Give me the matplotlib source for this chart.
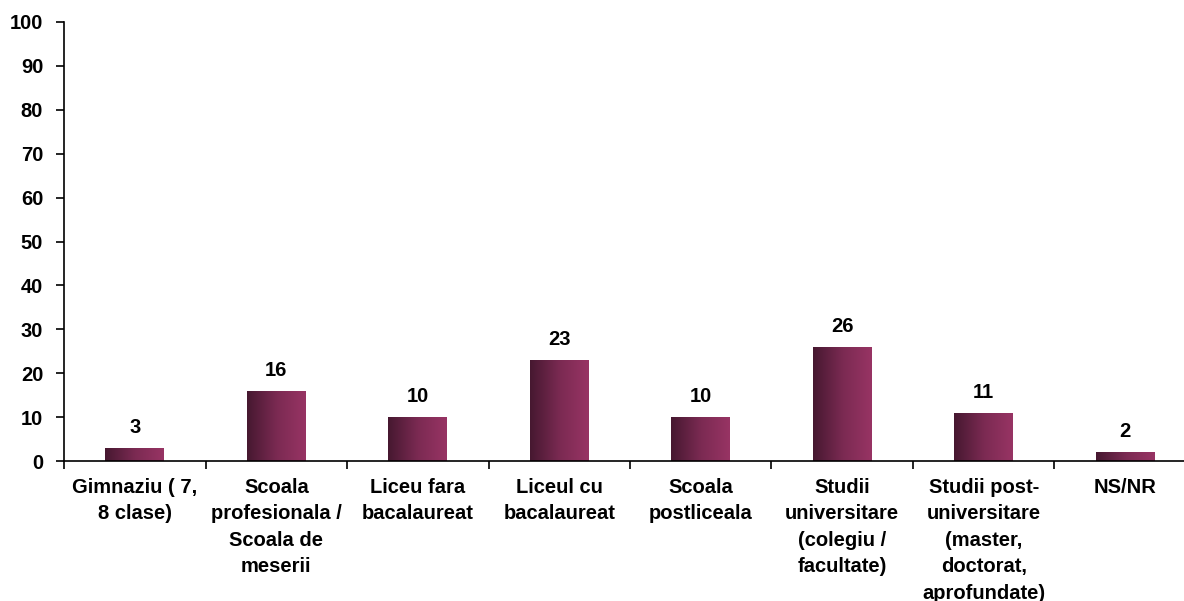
import matplotlib.pyplot as plt
import numpy as np
from matplotlib.colors import LinearSegmentedColormap

categories = ["Gimnaziu ( 7,\n8 clase)", "Scoala\nprofesionala /\nScoala de\nmeserii",
              "Liceu fara\nbacalaureat", "Liceul cu\nbacalaureat", "Scoala\npostliceala",
              "Studii\nuniversitare\n(colegiu /\nfacultate)",
              "Studii post-\nuniversitare\n(master,\ndoctorat,\naprofundate)", "NS/NR"]
values = [3, 16, 10, 23, 10, 26, 11, 2]

plt.rcParams['font.family'] = ['Liberation Sans', 'DejaVu Sans']
plt.rcParams['font.weight'] = 'bold'

fig = plt.figure(figsize=(11.84, 6.01), dpi=100)
ax = fig.add_axes([0.0541, 0.2329, 0.956, 0.7305])

x = np.arange(len(categories))
bars = ax.bar(x, values, width=0.415, color='none', edgecolor='none')

# left-to-right plum gradient inside each bar
cmap = LinearSegmentedColormap.from_list('plum', ['#461830', '#7a2a52', '#983464'])
grad = np.linspace(0, 1, 256).reshape(1, -1)
for b in bars:
    x0, y0 = b.get_x(), b.get_y()
    w, h = b.get_width(), b.get_height()
    im = ax.imshow(grad, cmap=cmap, aspect='auto', extent=[x0, x0 + w, y0, y0 + h],
                   interpolation='bicubic', zorder=2)
    im.set_clip_path(b)

for xi, v in zip(x, values):
    ax.annotate(str(v), (xi, v), xytext=(0, 8), textcoords='offset points',
                ha='center', va='bottom', fontsize=14.5, fontweight='bold')

ax.set_xlim(-0.5, len(categories) - 0.5)
ax.set_ylim(0, 100)
ax.set_yticks(range(0, 101, 10))
ax.set_xticks(np.arange(-0.5, len(categories), 1.0))
ax.set_xticklabels([])
ax.set_xticks(x, minor=True)
ax.set_xticklabels(categories, minor=True, fontsize=14.5, fontweight='bold', linespacing=1.5,
                   va='top')
ax.tick_params(axis='x', which='minor', length=0, pad=12)
ax.tick_params(axis='x', which='major', length=6, width=1.2, direction='out')
ax.tick_params(axis='y', length=6, width=1.2, labelsize=14.5, pad=9)
for lbl in ax.get_yticklabels():
    lbl.set_fontweight('bold')

ax.spines['top'].set_visible(False)
ax.spines['right'].set_visible(False)
ax.spines['left'].set_linewidth(1.2)
ax.spines['bottom'].set_linewidth(1.2)

fig.savefig('out.png', dpi=100)
